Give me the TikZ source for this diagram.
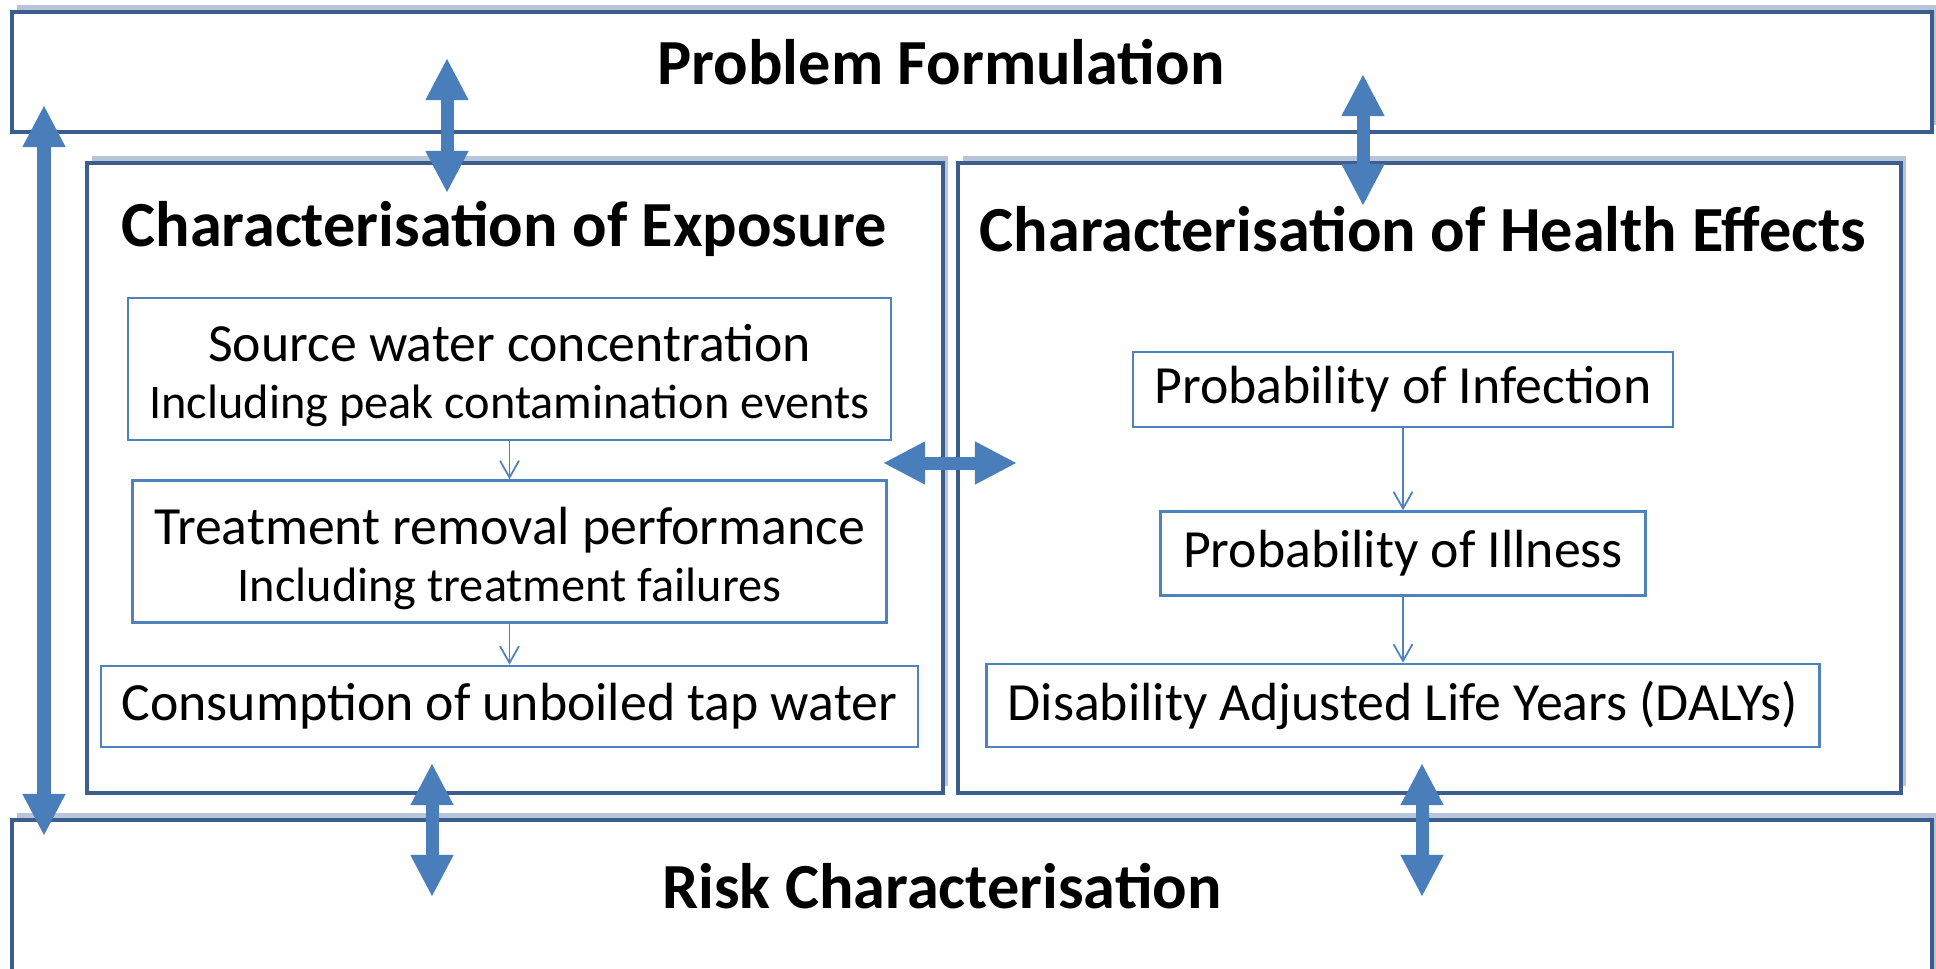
\documentclass[tikz,border=0pt]{standalone}
\usepackage{fontspec}
\setmainfont{Carlito}
\usetikzlibrary{positioning,arrows.meta,shadows}
\definecolor{boxblue}{HTML}{3B5E8C}
\definecolor{lineblue}{HTML}{4F81BD}
\definecolor{arrowblue}{HTML}{4A7EBB}
\definecolor{shadeblue}{HTML}{B7C4D9}
\newcommand{\titlefont}{\fontsize{36.6}{42}\selectfont\bfseries}
\newcommand{\bodyfont}{\fontsize{30.6}{32.6}\selectfont}
\newcommand{\subfont}{\fontsize{27.5}{30}\selectfont}
\newcommand{\tallstrut}{\rule{0pt}{29pt}}
\tikzset{
    outerbox/.style={rectangle,draw=boxblue,line width=2.6pt,fill=white,
        drop shadow={shadow xshift=0.1cm,shadow yshift=0.14cm,fill=shadeblue,opacity=1}},
    innerbox/.style={rectangle,draw=lineblue,line width=1.4pt,fill=white,align=center,font=\bodyfont,inner sep=0pt},
    boxtitle/.style={font=\titlefont,inner sep=0pt},
    fatarrow/.style={{Triangle[width=22.8pt,length=24pt]}-{Triangle[width=22.8pt,length=24pt]},line width=7.4pt,arrowblue},
    thinarrow/.style={-{Straight Barb[length=9.5pt,width=10.8pt]},line width=1pt,lineblue}
}

\begin{document}
\begin{tikzpicture}[x=0.02cm,y=-0.02cm]
    \useasboundingbox (0,0) rectangle (1936,969);
    \node[outerbox,minimum width=38.4cm,minimum height=2.4cm] (prob) at (972,72) {};
    \node[outerbox,minimum width=38.4cm,minimum height=3.6cm] (risk) at (972,910) {};
    \node[outerbox,minimum width=17.12cm,minimum height=12.6cm] (exp) at (515,478) {};
    \node[outerbox,minimum width=18.86cm,minimum height=12.6cm] (hea) at (1429.5,478) {};
    \node[boxtitle] (probtxt) at (941,62) {Problem Formulation};
    \node[boxtitle] (risktxt) at (942,886) {Risk Characterisation};
    \node[boxtitle] (exptxt) at (504,229) {Characterisation of Exposure};
    \node[boxtitle] (heatxt) at (1423,229) {Characterisation of Health Effects};

    \node[innerbox,minimum width=15.26cm,minimum height=2.84cm] (src) at (509.5,369)
        {\tallstrut Source water concentration\\{\subfont Including peak contamination events}};
    \node[innerbox,minimum width=15.08cm,minimum height=2.84cm,below=0.76cm of src] (trt)
        {\tallstrut Treatment removal performance\\{\subfont Including treatment failures}};
    \node[innerbox,minimum width=16.34cm,minimum height=1.62cm,below=0.82cm of trt] (con)
        {Consumption of unboiled tap water};
    \node[innerbox,minimum width=10.8cm,minimum height=1.5cm] (inf) at (1403,389.5) {Probability of Infection};
    \node[innerbox,minimum width=9.7cm,minimum height=1.68cm,below=1.64cm of inf] (ill) {Probability of Illness};
    \node[innerbox,minimum width=16.66cm,minimum height=1.66cm,below=1.32cm of ill] (daly)
        {Disability Adjusted Life Years (DALYs)};
    \draw[thinarrow] (src) -- (trt);
    \draw[thinarrow] (trt) -- (con);
    \draw[thinarrow] (inf) -- (ill);
    \draw[thinarrow] (ill) -- (daly);

    \coordinate (sidetop) at (44,105);
    \coordinate (sidebot) at (44,836);
    \coordinate (probl) at (447,58);
    \coordinate (expt) at (447,193);
    \coordinate (probr) at (1363,74);
    \coordinate (heat) at (1363,206);
    \coordinate (expb) at (432,763);
    \coordinate (riskl) at (432,897);
    \coordinate (heab) at (1422,763);
    \coordinate (riskr) at (1422,897);
    \coordinate (expr) at (883,463);
    \coordinate (heal) at (1017,463);
    \draw[fatarrow] (sidetop) -- (sidebot);
    \draw[fatarrow] (probl) -- (expt);
    \draw[fatarrow] (probr) -- (heat);
    \draw[fatarrow] (expb) -- (riskl);
    \draw[fatarrow] (heab) -- (riskr);
    \draw[fatarrow] (expr) -- (heal);
\end{tikzpicture}
\end{document}
